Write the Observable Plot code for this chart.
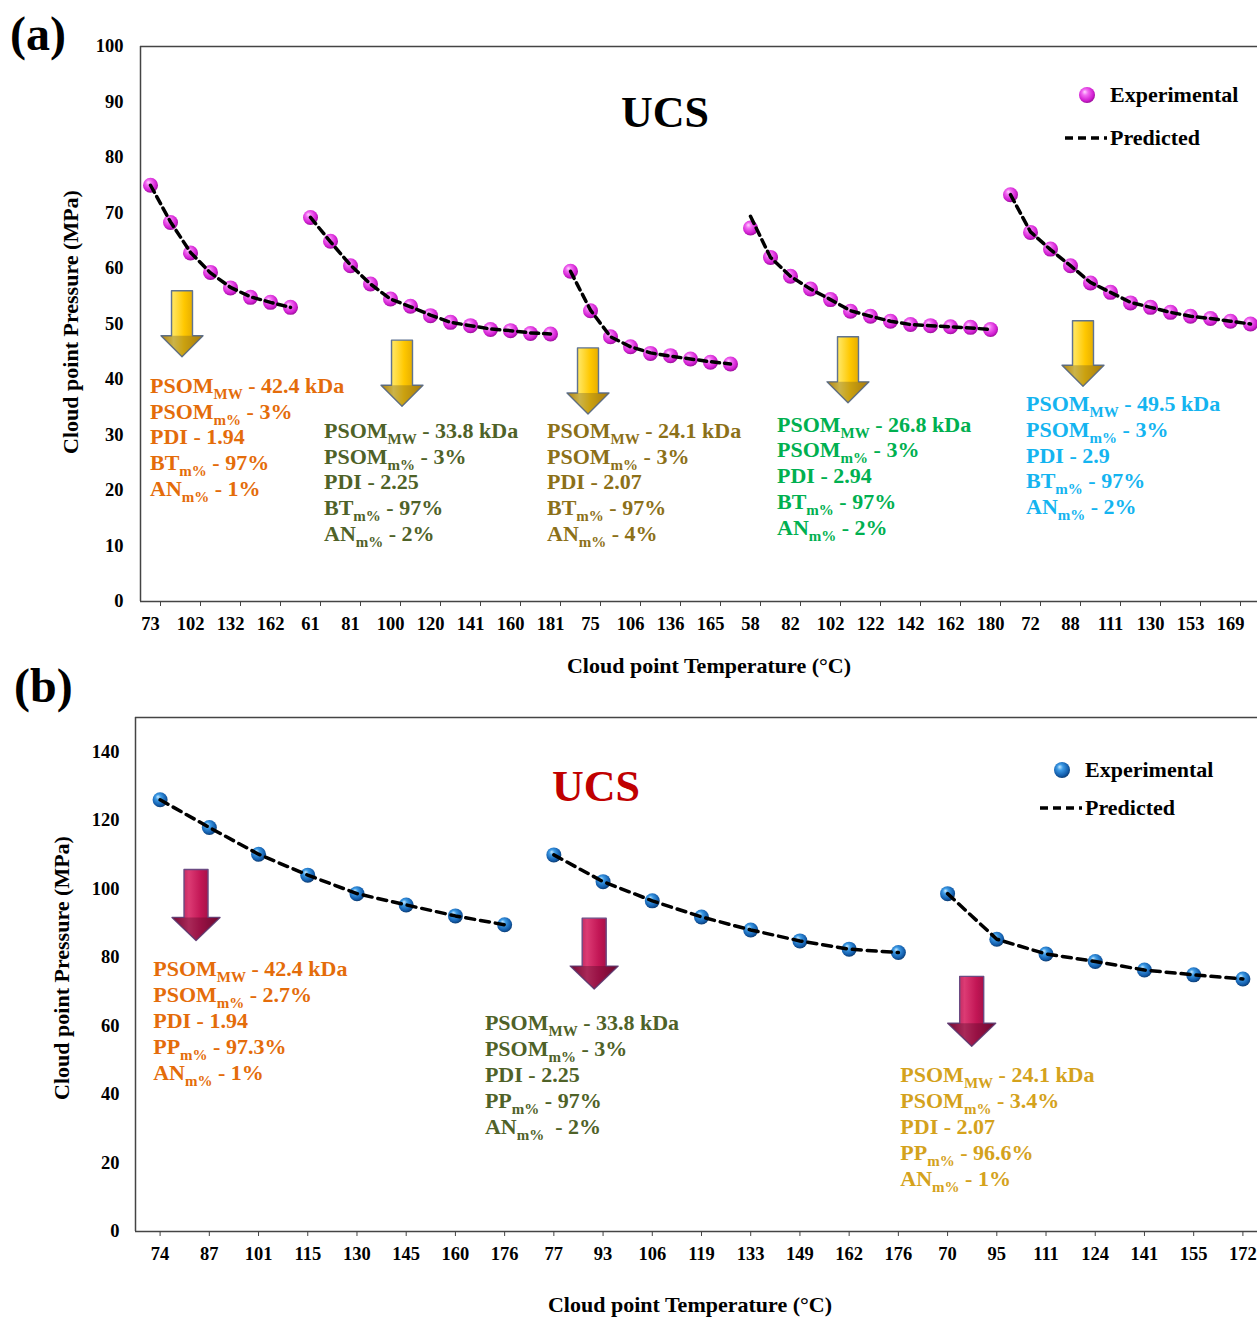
<!DOCTYPE html>
<html>
<head>
<meta charset="utf-8">
<script src="https://cdn.jsdelivr.net/npm/d3@7"></script>
<script src="https://cdn.jsdelivr.net/npm/@observablehq/plot@0.6"></script>
<style>
html,body{margin:0;padding:0;background:#fff;overflow:hidden;}
#root{position:relative;width:1257px;height:1317px;overflow:hidden;background:#fff;}
#root svg{position:absolute;left:0;}
</style>
</head>
<body>
<div id="root"></div>
<script>
// ================= DATA =================
// Panel (a): tick labels (every second category is labelled)
const aTickLabels = [73,102,132,162,61,81,100,120,141,160,181,75,106,136,165,58,82,102,122,142,162,180,72,88,111,130,153,169];
// Panel (a): experimental cloud point pressures (MPa), one array per series
const aExp1 = [75.0,68.3,62.8,59.3,56.5,54.8,53.9,53.0];
const aExp2 = [69.2,64.9,60.5,57.2,54.5,53.2,51.5,50.3,49.7,49.0,48.8,48.3,48.2];
const aExp3 = [59.5,52.4,47.7,45.9,44.7,44.3,43.7,43.1,42.8];
const aExp4 = [67.3,62.0,58.6,56.3,54.4,52.3,51.4,50.5,49.9,49.7,49.5,49.4,49.0];
const aExp5 = [73.3,66.5,63.5,60.5,57.4,55.7,53.8,53.0,52.1,51.4,51.0,50.5,50.0];
// Panel (a): predicted pressures
const aPred1 = [75.0,68.4,62.9,59.2,56.6,54.9,53.9,53.0];
const aPred2 = [69.2,64.8,60.6,57.2,54.5,53.1,51.6,50.3,49.7,49.1,48.8,48.4,48.2];
const aPred3 = [59.5,52.5,47.7,45.9,44.8,44.2,43.7,43.2,42.8];
const aPred4 = [69.4,62.0,58.6,56.3,54.4,52.4,51.4,50.5,49.9,49.7,49.5,49.3,49.0];
const aPred5 = [73.3,66.6,63.4,60.5,57.5,55.7,53.9,53.0,52.1,51.4,51.0,50.5,50.0];

// Panel (b): temperatures (tick labels), one per category
const bTemps1 = [74,87,101,115,130,145,160,176];
const bTemps2 = [77,93,106,119,133,149,162,176];
const bTemps3 = [70,95,111,124,141,155,172];
// Panel (b): experimental pressures
const bExp1 = [126.0,117.9,110.1,104.0,98.6,95.3,92.1,89.5];
const bExp2 = [109.9,102.1,96.5,91.8,88.0,84.8,82.4,81.4];
const bExp3 = [98.6,85.3,81.0,78.8,76.3,74.9,73.7];
// Panel (b): predicted pressures
const bPred1 = [126.0,117.9,110.1,104.0,98.6,95.3,92.1,89.5];
const bPred2 = [109.9,102.1,96.5,91.8,88.0,84.8,82.4,81.4];
const bPred3 = [98.6,85.3,81.0,78.8,76.3,74.9,73.7];

// Annotation texts: [main, subscript, rest]
const aNotes = [
  [["PSOM","MW"," - 42.4 kDa"],["PSOM","m%"," - 3%"],["PDI - 1.94"],["BT","m%"," - 97%"],["AN","m%"," - 1%"]],
  [["PSOM","MW"," - 33.8 kDa"],["PSOM","m%"," - 3%"],["PDI - 2.25"],["BT","m%"," - 97%"],["AN","m%"," - 2%"]],
  [["PSOM","MW"," - 24.1 kDa"],["PSOM","m%"," - 3%"],["PDI - 2.07"],["BT","m%"," - 97%"],["AN","m%"," - 4%"]],
  [["PSOM","MW"," - 26.8 kDa"],["PSOM","m%"," - 3%"],["PDI - 2.94"],["BT","m%"," - 97%"],["AN","m%"," - 2%"]],
  [["PSOM","MW"," - 49.5 kDa"],["PSOM","m%"," - 3%"],["PDI - 2.9"],["BT","m%"," - 97%"],["AN","m%"," - 2%"]]
];
const bNotes = [
  [["PSOM","MW"," - 42.4 kDa"],["PSOM","m%"," - 2.7%"],["PDI - 1.94"],["PP","m%"," - 97.3%"],["AN","m%"," - 1%"]],
  [["PSOM","MW"," - 33.8 kDa"],["PSOM","m%"," - 3%"],["PDI - 2.25"],["PP","m%"," - 97%"],["AN","m%","  - 2%"]],
  [["PSOM","MW"," - 24.1 kDa"],["PSOM","m%"," - 3.4%"],["PDI - 2.07"],["PP","m%"," - 96.6%"],["AN","m%"," - 1%"]]
];

// ================= LAYOUT / STYLE =================
const SERIF = '"Liberation Serif","Times New Roman",serif';
const aNoteColors = ["#E46C0A","#4F6228","#8C7018","#00B050","#14B4F0"];
const bNoteColors = ["#E46C0A","#4F6228","#D4A21C"];
// positions in data coordinates (category index, pressure)
const aNotePos = [{x:0,y:37.5},{x:8.7,y:29.4},{x:19.85,y:29.4},{x:31.35,y:30.5},{x:43.8,y:34.2}];
const aArrowPos = [{x:1.6,top:55.9,tip:44.0},{x:12.6,top:47.0,tip:35.1},{x:21.9,top:45.6,tip:33.7},{x:34.9,top:47.6,tip:35.7},{x:46.65,top:50.5,tip:38.7}];
const bNotePos = [{x:-0.13,y:74.3},{x:6.61,y:58.6},{x:15.05,y:43.4}];
const bArrowPos = [{x:0.74,top:105.5,tip:84.8},{x:8.83,top:91.3,tip:70.6},{x:16.5,top:74.3,tip:53.9}];

const root = document.getElementById("root");

function buildRows(expList, predList) {
  const rows = []; let idx = 0;
  expList.forEach((vals, s) => vals.forEach((v, j) => rows.push({series: s, idx: idx++, exp: v, pred: predList[s][j]})));
  return rows;
}

function addDefs(svg, sphereId, sphereStops, arrowId, arrowStops) {
  const defs = svg.insert("defs", ":first-child");
  const rg = defs.append("radialGradient").attr("id", sphereId)
    .attr("cx", "45%").attr("cy", "42%").attr("r", "62%").attr("fx", "35%").attr("fy", "30%");
  sphereStops.forEach(([o, c]) => rg.append("stop").attr("offset", o).attr("stop-color", c));
  const lg = defs.append("linearGradient").attr("id", arrowId)
    .attr("x1", "0").attr("x2", "1").attr("y1", "0").attr("y2", "0");
  arrowStops.forEach(([o, c]) => lg.append("stop").attr("offset", o).attr("stop-color", c));
}

function decorate(plot, cfg) {
  const svg = d3.select(plot);
  const sx = plot.scale("x"), sy = plot.scale("y");
  addDefs(svg, cfg.sphereId, cfg.sphereStops, cfg.arrowId, cfg.arrowStops);
  const g = svg.append("g").attr("font-family", SERIF).attr("font-weight", "bold").attr("text-anchor", "start");

  // arrows
  cfg.arrows.forEach(a => {
    const cx = sx.apply(a.x), y1 = sy.apply(a.top), y2 = sy.apply(a.tip);
    const sw = cfg.shaftW / 2, hw = cfg.headW / 2, hh = cfg.headH;
    const d = `M${cx - sw},${y1}L${cx + sw},${y1}L${cx + sw},${y2 - hh}L${cx + hw},${y2 - hh}L${cx},${y2}L${cx - hw},${y2 - hh}L${cx - sw},${y2 - hh}Z`;
    g.append("path").attr("d", d).attr("fill", `url(#${cfg.arrowId})`)
      .attr("stroke", cfg.arrowStroke).attr("stroke-width", 1.4).attr("stroke-linejoin", "round");
    const dh = `M${cx - hw},${y2 - hh}L${cx + hw},${y2 - hh}L${cx},${y2}Z`;
    g.append("path").attr("d", dh).attr("fill", cfg.headShade).attr("opacity", 0.35);
  });

  // annotation blocks
  cfg.notes.forEach((lines, k) => {
    const pos = cfg.notePos[k];
    const x0 = sx.apply(pos.x), y0 = sy.apply(pos.y);
    const t = g.append("text").attr("fill", cfg.noteColors[k]).attr("font-size", 22).attr("text-anchor", "start");
    lines.forEach((parts, li) => {
      t.append("tspan").attr("x", x0).attr("y", y0 + li * cfg.lineGap).text(parts[0]);
      if (parts.length > 1) {
        t.append("tspan").attr("dy", 6).attr("font-size", 15).text(parts[1]);
        t.append("tspan").attr("dy", -6).text(parts[2]);
      }
    });
  });

  // title
  g.append("text").attr("x", cfg.title.x).attr("y", cfg.title.y).attr("text-anchor", "middle")
    .attr("font-size", 44).attr("fill", cfg.title.color).text("UCS");

  // legend
  const L = cfg.legend;
  g.append("circle").attr("cx", L.x + 22).attr("cy", L.y1).attr("r", 8).attr("fill", `url(#${cfg.sphereId})`);
  g.append("text").attr("x", L.x + 45).attr("y", L.y1 + 7).attr("font-size", 22).attr("fill", "#000").text("Experimental");
  g.append("line").attr("x1", L.x).attr("x2", L.x + 42).attr("y1", L.y2).attr("y2", L.y2)
    .attr("stroke", "#000").attr("stroke-width", 3.5).attr("stroke-dasharray", "8,5");
  g.append("text").attr("x", L.x + 45).attr("y", L.y2 + 7).attr("font-size", 22).attr("fill", "#000").text("Predicted");

  // axis titles
  g.append("text").attr("x", cfg.xLabel.x).attr("y", cfg.xLabel.y).attr("text-anchor", "middle")
    .attr("font-size", 22).attr("fill", "#000").text("Cloud point Temperature (°C)");
  g.append("text").attr("transform", `translate(${cfg.yLabel.x},${cfg.yLabel.y}) rotate(-90)`)
    .attr("text-anchor", "middle").attr("font-size", 22).attr("fill", "#000").text("Cloud point Pressure (MPa)");

  // panel label
  g.append("text").attr("x", cfg.panel.x).attr("y", cfg.panel.y).attr("font-size", 48)
    .attr("fill", "#000").text(cfg.panel.text);
}

// ================= PANEL (a) =================
const aRows = buildRows([aExp1, aExp2, aExp3, aExp4, aExp5], [aPred1, aPred2, aPred3, aPred4, aPred5]);
const aCount = aRows.length;

const plotA = Plot.plot({
  width: 1260, height: 680,
  marginLeft: 140, marginRight: 0, marginTop: 46, marginBottom: 79,
  style: {fontFamily: SERIF, fontWeight: "bold", fontSize: "18.5px", color: "#000", background: "none", overflow: "visible", maxWidth: "none"},
  x: {type: "linear", domain: [-0.5, aCount - 0.5], label: null},
  y: {domain: [0, 100], label: null},
  marks: [
    Plot.ruleY([0, 100], {stroke: "#444", strokeWidth: 1.5}),
    Plot.ruleX([-0.5], {stroke: "#444", strokeWidth: 1.5}),
    Plot.axisY({ticks: d3.range(0, 101, 10), tickSize: 0, tickPadding: 17, label: null}),
    Plot.axisX({ticks: aTickLabels.map((_, k) => 2 * k), tickFormat: v => String(aTickLabels[Math.round(v / 2)]), tickSize: 0, tickPadding: 15, label: null}),
    Plot.axisX({ticks: d3.range(0.5, aCount, 2), tickSize: 5, tickFormat: () => "", stroke: "#444", label: null}),
    Plot.dot(aRows, {x: "idx", y: "exp", r: 7.5, fill: "url(#sphereA)"}),
    Plot.line(aRows, {x: "idx", y: "pred", z: "series", stroke: "#000", strokeWidth: 3.5, strokeDasharray: "8,5"})
  ]
});
plotA.style.top = "0px";
root.appendChild(plotA);
decorate(plotA, {
  sphereId: "sphereA",
  sphereStops: [["0%", "#ffd6ff"], ["30%", "#f26af2"], ["75%", "#d21fd2"], ["100%", "#8e0a8e"]],
  arrowId: "arrowA",
  arrowStops: [["0%", "#d99a00"], ["30%", "#ffe45a"], ["55%", "#ffc800"], ["100%", "#c98d00"]],
  arrowStroke: "#5f7391", headShade: "#6b5a2a",
  shaftW: 21, headW: 42, headH: 21,
  arrows: aArrowPos, notes: aNotes, notePos: aNotePos, noteColors: aNoteColors, lineGap: 25.7,
  title: {x: 665, y: 127, color: "#000"},
  legend: {x: 1065, y1: 95, y2: 138},
  xLabel: {x: 709, y: 673},
  yLabel: {x: 78, y: 322},
  panel: {x: 10, y: 50, text: "(a)"}
});

// ================= PANEL (b) =================
const bRows = buildRows([bExp1, bExp2, bExp3], [bPred1, bPred2, bPred3]);
const bTickLabels = [...bTemps1, ...bTemps2, ...bTemps3];
const bCount = bRows.length;
const bTop = 637;

const plotB = Plot.plot({
  width: 1267, height: 680,
  marginLeft: 135, marginRight: 0, marginTop: 80, marginBottom: 86,
  style: {fontFamily: SERIF, fontWeight: "bold", fontSize: "18.5px", color: "#000", background: "none", overflow: "visible", maxWidth: "none"},
  x: {type: "linear", domain: [-0.5, bCount - 0.5], label: null},
  y: {domain: [0, 150], label: null},
  marks: [
    Plot.ruleY([0, 150], {stroke: "#444", strokeWidth: 1.5}),
    Plot.ruleX([-0.5], {stroke: "#444", strokeWidth: 1.5}),
    Plot.axisY({ticks: d3.range(0, 141, 20), tickSize: 0, tickPadding: 16, label: null}),
    Plot.axisX({ticks: d3.range(bCount), tickFormat: v => String(bTickLabels[Math.round(v)]), tickSize: 5, tickPadding: 10, stroke: "#444", label: null}),
    Plot.dot(bRows, {x: "idx", y: "exp", r: 7.5, fill: "url(#sphereB)"}),
    Plot.line(bRows, {x: "idx", y: "pred", z: "series", stroke: "#000", strokeWidth: 3.5, strokeDasharray: "9,6"})
  ]
});
plotB.style.top = bTop + "px";
root.appendChild(plotB);
decorate(plotB, {
  sphereId: "sphereB",
  sphereStops: [["0%", "#c4e8ff"], ["30%", "#3d9be6"], ["75%", "#145fae"], ["100%", "#0a3566"]],
  arrowId: "arrowB",
  arrowStops: [["0%", "#8a0b3c"], ["35%", "#dc3b74"], ["60%", "#c21655"], ["100%", "#7e0a36"]],
  arrowStroke: "#6b4a82", headShade: "#4a0a25",
  shaftW: 24, headW: 48, headH: 23,
  arrows: bArrowPos, notes: bNotes, notePos: bNotePos, noteColors: bNoteColors, lineGap: 26,
  title: {x: 596, y: 801 - bTop, color: "#C00000"},
  legend: {x: 1040, y1: 770 - bTop, y2: 808 - bTop},
  xLabel: {x: 690, y: 1312 - bTop},
  yLabel: {x: 69, y: 968 - bTop},
  panel: {x: 14, y: 702 - bTop, text: "(b)"}
});
</script>
</body>
</html>
